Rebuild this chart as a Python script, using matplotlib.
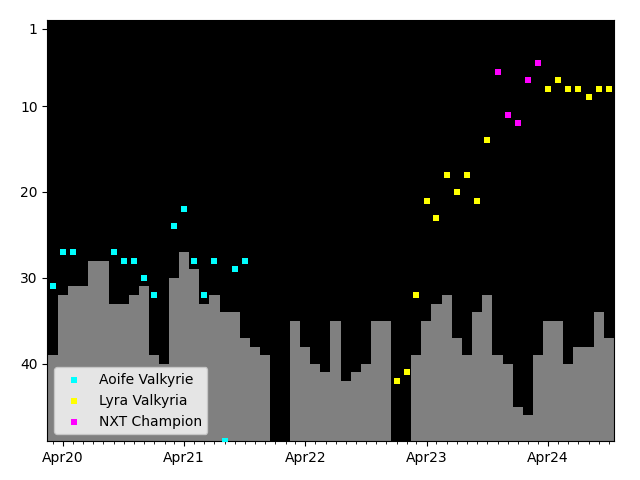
import numpy as np
import pandas as pd
import matplotlib
matplotlib.use('Agg')
import matplotlib.pyplot as plt
import matplotlib.dates as mdates

# meses (primeiro dia de cada mês)
meses = pd.date_range('2020-03-01', '2024-10-01', freq='MS')

# posição das barras cinza (NaN = sem dado)
barras = [39, 32, 31, 31, 28, 28, 33, 33, 32, 31,
          39, 40, 30, 27, 29, 33, 32, 34, 34, 37, 38, 39,
          np.nan, np.nan, 35, 38, 40, 41, 35, 42, 41, 40, 35, 35,
          np.nan, np.nan, 39, 35, 33, 32, 37, 39, 34, 32, 39, 40,
          45, 46, 39, 35, 35, 40, 38, 38, 34, 37]

# pontos de cada personagem
aoife_datas = ['2020-03-01', '2020-04-01', '2020-05-01', '2020-09-01', '2020-10-01',
               '2020-11-01', '2020-12-01', '2021-01-01', '2021-03-01', '2021-04-01',
               '2021-05-01', '2021-06-01', '2021-07-01', '2021-08-01', '2021-09-01',
               '2021-10-01']
aoife_rank = [31, 27, 27, 27, 28, 28, 30, 32, 24, 22, 28, 32, 28, 49, 29, 28]

lyra_datas = ['2023-01-01', '2023-02-01', '2023-03-01', '2023-04-01', '2023-05-01',
              '2023-06-01', '2023-07-01', '2023-08-01', '2023-09-01', '2023-10-01',
              '2024-04-01', '2024-05-01', '2024-06-01', '2024-07-01', '2024-08-01',
              '2024-09-01', '2024-10-01']
lyra_rank = [42, 41, 32, 21, 23, 18, 20, 18, 21, 14, 8, 7, 8, 8, 9, 8, 8]

nxt_datas = ['2023-11-01', '2023-12-01', '2024-01-01', '2024-02-01', '2024-03-01']
nxt_rank = [6, 11, 12, 7, 5]

fundo = 49

fig, ax = plt.subplots(figsize=(6.4, 4.8), dpi=100)
fig.subplots_adjust(left=0.074, right=0.959, top=0.958, bottom=0.081)
ax.set_facecolor('black')

b = np.array(barras, dtype=float)
ok = ~np.isnan(b)
ax.bar(meses[ok], fundo - b[ok], bottom=b[ok], width=31, color='gray', zorder=1)

ax.scatter(pd.to_datetime(aoife_datas), aoife_rank, marker='s', s=13, color='cyan',
           linewidths=0, label='Aoife Valkyrie', zorder=3)
ax.scatter(pd.to_datetime(lyra_datas), lyra_rank, marker='s', s=13, color='yellow',
           linewidths=0, label='Lyra Valkyria', zorder=3)
ax.scatter(pd.to_datetime(nxt_datas), nxt_rank, marker='s', s=13, color='magenta',
           linewidths=0, label='NXT Champion', zorder=3)

ax.set_ylim(fundo, 0)
ax.set_yticks([1, 10, 20, 30, 40])
ax.set_xlim(pd.Timestamp('2020-02-14'), pd.Timestamp('2024-10-16'))
ax.xaxis.set_major_locator(mdates.MonthLocator(bymonth=4))
ax.xaxis.set_major_formatter(mdates.DateFormatter('%b%y'))
ax.xaxis.set_minor_locator(mdates.MonthLocator())

ax.legend(loc='lower left')
plt.savefig('out.png')
